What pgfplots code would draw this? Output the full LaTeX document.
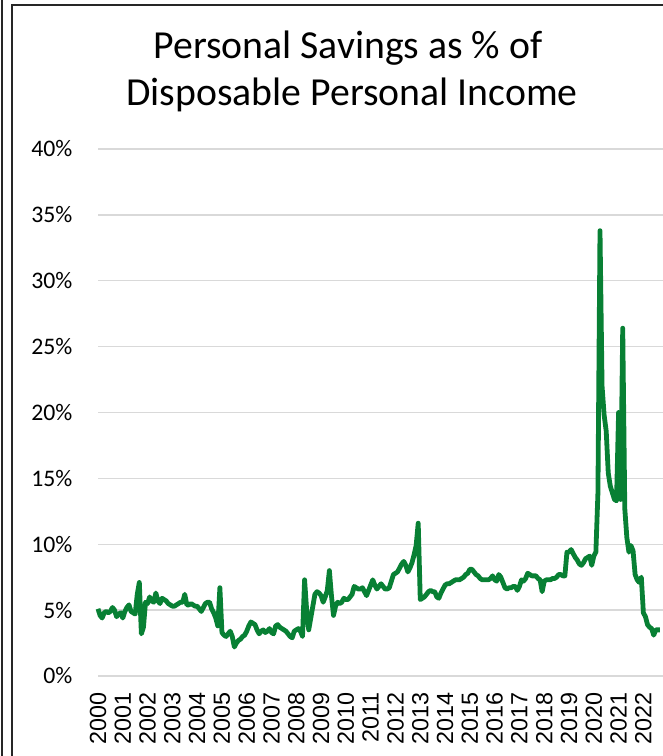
\documentclass[border=0pt]{standalone}
\usepackage{fontspec}
\setmainfont{Carlito}
\newfontfamily\arialfont{Liberation Sans}
\usepackage{pgfplots}
\usepackage{pgfplotstable}
\pgfplotsset{compat=1.18}
\definecolor{savegreen}{RGB}{8,128,52}
\definecolor{gridgray}{RGB}{217,217,217}
\pgfplotstableread{
y
5.1
4.6
4.4
4.8
4.9
4.8
4.9
5.2
5.0
4.5
4.7
4.8
4.4
4.9
5.2
5.4
4.9
4.8
4.7
6.2
7.1
3.2
3.7
5.6
5.5
6.0
5.7
5.6
6.3
5.7
5.5
5.9
5.8
5.7
5.5
5.4
5.3
5.3
5.4
5.5
5.6
5.6
6.2
5.4
5.4
5.5
5.4
5.3
5.3
5.1
4.9
5.2
5.5
5.6
5.6
5.1
4.8
4.4
3.8
6.7
3.3
3.1
3.0
3.2
3.4
3.0
2.2
2.5
2.7
2.8
3.0
3.1
3.4
3.8
4.1
4.0
3.9
3.5
3.2
3.4
3.5
3.3
3.4
3.6
3.3
3.2
3.8
3.9
3.7
3.6
3.5
3.4
3.2
3.0
2.9
3.4
3.5
3.6
3.4
3.0
7.3
5.0
3.5
4.4
5.3
6.2
6.4
6.3
6.1
5.6
6.0
6.5
8.0
6.1
4.6
5.3
5.6
5.5
5.6
5.9
5.8
5.8
6.0
6.2
6.8
6.7
6.6
6.6
6.7
6.4
6.1
6.5
6.9
7.3
6.9
6.6
6.8
7.0
6.8
6.6
6.6
6.7
7.2
7.7
7.8
7.9
8.2
8.5
8.7
8.4
7.9
8.2
8.6
9.2
9.9
11.6
5.8
5.9
6.0
6.2
6.4
6.5
6.4
6.4
6.0
5.9
6.3
6.6
6.9
7.0
7.0
7.1
7.2
7.3
7.3
7.3
7.4
7.5
7.7
7.8
8.1
8.1
7.9
7.7
7.6
7.4
7.3
7.3
7.3
7.3
7.4
7.6
7.3
7.2
7.7
7.5
7.1
6.7
6.6
6.7
6.7
6.8
6.8
6.5
6.8
7.3
7.2
7.4
7.8
7.7
7.6
7.6
7.6
7.4
7.3
6.4
7.2
7.3
7.3
7.3
7.4
7.4
7.5
7.7
7.7
7.6
7.6
9.4
9.4
9.6
9.3
9.0
8.8
8.5
8.4
8.6
8.9
9.0
9.1
8.4
9.1
9.4
13.9
33.8
22.0
19.8
18.6
15.4
14.4
13.9
13.4
13.3
20.0
13.4
26.4
12.7
10.5
9.4
9.9
9.5
7.7
7.3
7.1
7.5
4.8
4.5
3.9
3.7
3.6
3.1
3.5
3.5
3.5
}\savings
\begin{document}
\begin{tikzpicture}[x=1pt,y=1pt]
\useasboundingbox (0,0) rectangle (497.25,567);
\draw[line width=1.1pt, black!85] (9,-10) -- (9,563.25) -- (520,563.25);
\draw[line width=1.1pt, black!85] (1.5,-10) -- (1.5,580);
\node[font=\fontsize{29.8pt}{36pt}\selectfont, anchor=base] at (261,522.75) {Personal Savings as \% of};
\node[font=\fontsize{29.8pt}{36pt}\selectfont, anchor=base] at (264,487.5) {Disposable Personal Income};
\begin{axis}[
  at={(73.5pt,60pt)}, anchor=south west,
  scale only axis, width=423.75pt, height=395.25pt,
  xmin=0, xmax=273.5, ymin=0, ymax=40,
  axis line style={draw=none},
  major tick length=0pt, tick style={draw=none},
  ytick={0,5,10,15,20,25,30,35,40},
  yticklabels={0\%,5\%,10\%,15\%,20\%,25\%,30\%,35\%,40\%},
  xtick={0,12,24,36,48,60,72,84,96,108,120,132,144,156,168,180,192,204,216,228,240,252,264},
  xticklabels={2000,2001,2002,2003,2004,2005,2006,2007,2008,2009,2010,2011,2012,2013,2014,2015,2016,2017,2018,2019,2020,2021,2022},
  ymajorgrids, grid style={gridgray, line width=1.1pt},
  yticklabel style={font=\fontsize{17.8pt}{21pt}\selectfont, inner sep=0pt, anchor=east},
  yticklabel shift=19pt,
  xticklabel style={font=\arialfont\fontsize{17.5pt}{20pt}\selectfont, inner sep=0pt, rotate=90, anchor=east},
  xticklabel shift=12pt,
  clip=false,
]
\addplot[savegreen, line width=3.6pt, line join=round, no markers] table[x expr=\coordindex, y=y] {\savings};
\end{axis}
\end{tikzpicture}
\end{document}
